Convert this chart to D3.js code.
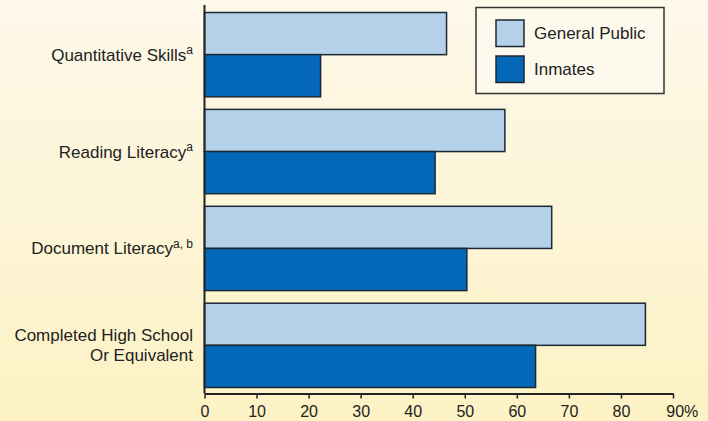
<!DOCTYPE html>
<html>
<head>
<meta charset="utf-8">
<script src="https://cdn.jsdelivr.net/npm/d3@7/dist/d3.min.js"></script>
<style>
  html, body { margin: 0; padding: 0; }
  body { width: 708px; height: 421px; overflow: hidden; }
  svg { display: block; font-family: "Liberation Sans", Arial, Helvetica, sans-serif; }
</style>
</head>
<body>
<svg id="chart" width="708" height="421"></svg>
<script>
// Categories (top to bottom), with superscript footnote markers
const categories = ["Quantitative Skills", "Reading Literacy", "Document Literacy", "Completed High School Or Equivalent"];
const labelLines = [["Quantitative Skills"], ["Reading Literacy"], ["Document Literacy"], ["Completed High School", "Or Equivalent"]];
const footnotes = ["a", "a", "a, b", ""];

// Percentages
const generalPublic = [46.5, 57.7, 66.7, 84.7];
const inmates = [22.3, 44.3, 50.4, 63.6];

const seriesNames = ["General Public", "Inmates"];
const tickValues = [0, 10, 20, 30, 40, 50, 60, 70, 80, 90];

const colors = { "General Public": "#b5d1ea", "Inmates": "#0468b8" };
const ink = "#222";
const barStroke = "#1c2833";

const svg = d3.select("#chart");
const W = 708, H = 421;

// Background wash: pale cream at the top fading to a warmer yellow below
const defs = svg.append("defs");
const grad = defs.append("linearGradient").attr("id", "bg").attr("x1", 0).attr("y1", 0).attr("x2", 0).attr("y2", 1);
grad.append("stop").attr("offset", "0%").attr("stop-color", "#fdf8ea");
grad.append("stop").attr("offset", "100%").attr("stop-color", "#fcf2c4");
svg.append("rect").attr("width", W).attr("height", H).attr("fill", "url(#bg)");

const x0 = 204.5, x1 = 673;
const yTop = 6.5, yBottom = 393.5;

const x = d3.scaleLinear().domain([0, 90]).range([x0, x1]);
const y = d3.scaleBand().domain(categories).range([yTop, yBottom]).paddingInner(0.13).paddingOuter(0.062);
const ySub = d3.scaleBand().domain(seriesNames).range([0, y.bandwidth()]);

const rows = categories.map((c, i) => ({ cat: c, values: [
  { key: "General Public", value: generalPublic[i] },
  { key: "Inmates", value: inmates[i] }
]}));

const groups = svg.append("g").selectAll("g").data(rows).join("g")
  .attr("transform", d => `translate(0,${y(d.cat)})`);

groups.selectAll("rect").data(d => d.values).join("rect")
  .attr("x", x(0))
  .attr("y", d => ySub(d.key))
  .attr("width", d => x(d.value) - x(0))
  .attr("height", ySub.bandwidth())
  .attr("fill", d => colors[d.key])
  .attr("stroke", barStroke)
  .attr("stroke-width", 1.5);

// Category labels, right aligned against the axis
const labelX = 193;
const lineGap = 20;
rows.forEach((r, i) => {
  const lines = labelLines[i];
  const cy = y(r.cat) + y.bandwidth() / 2;
  const startY = cy - (lines.length - 1) * lineGap / 2;
  lines.forEach((ln, j) => {
    const t = svg.append("text")
      .attr("x", labelX)
      .attr("y", startY + j * lineGap)
      .attr("dy", "0.35em")
      .attr("text-anchor", "end")
      .attr("font-size", 17)
      .attr("fill", ink)
      .text(ln);
    if (j === lines.length - 1 && footnotes[i]) {
      t.append("tspan")
        .attr("font-size", 12)
        .attr("dy", "-0.55em")
        .text(footnotes[i]);
    }
  });
});

// Vertical axis line
svg.append("line")
  .attr("x1", x(0)).attr("x2", x(0))
  .attr("y1", 5).attr("y2", yBottom)
  .attr("stroke", ink).attr("stroke-width", 2);

// Horizontal value axis
const xAxis = d3.axisBottom(x)
  .tickValues(tickValues)
  .tickSize(5)
  .tickSizeOuter(0)
  .tickFormat(d => d === 90 ? "90%" : d);

const ax = svg.append("g")
  .attr("transform", `translate(0,${yBottom})`)
  .call(xAxis);
ax.select(".domain").attr("stroke", ink).attr("stroke-width", 2);
ax.selectAll(".tick line").attr("stroke", ink).attr("stroke-width", 1.5);
ax.selectAll(".tick text")
  .attr("font-size", 16)
  .attr("font-family", "Liberation Sans, Arial, sans-serif")
  .attr("fill", ink)
  .attr("y", 12.5);
ax.selectAll(".tick").filter(d => d === 90).select("text").attr("dx", "0.55em");

// Legend
const legend = svg.append("g");
legend.append("rect")
  .attr("x", 476).attr("y", 7.5)
  .attr("width", 188).attr("height", 86)
  .attr("fill", "#fdf9ec")
  .attr("stroke", "#333").attr("stroke-width", 1.5);

const legendItems = legend.selectAll("g").data(seriesNames).join("g")
  .attr("transform", (d, i) => `translate(496,${20 + i * 36})`);
legendItems.append("rect")
  .attr("width", 28).attr("height", 26.5)
  .attr("fill", d => colors[d])
  .attr("stroke", barStroke).attr("stroke-width", 1.5);
legendItems.append("text")
  .attr("x", 38).attr("y", 13.5)
  .attr("dy", "0.35em")
  .attr("font-size", 17)
  .attr("fill", ink)
  .text(d => d);
</script>
</body>
</html>
